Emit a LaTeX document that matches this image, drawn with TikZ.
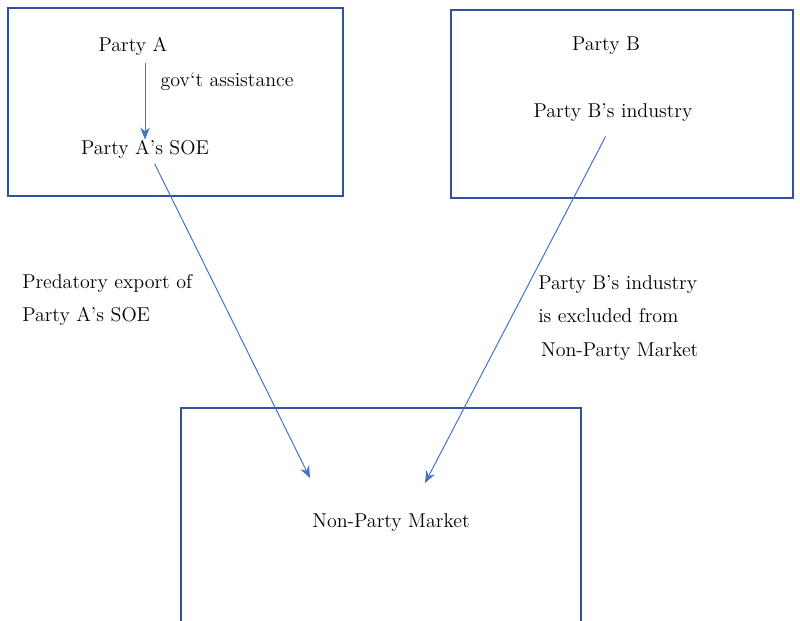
\documentclass[tikz,border=0pt]{standalone}
\usetikzlibrary{arrows.meta}

\definecolor{boxblue}{RGB}{46,82,158}
\definecolor{arrowblue}{RGB}{68,114,196}

\begin{document}
\begin{tikzpicture}[x=0.025cm, y=-0.025cm,
	lbl/.style={inner sep=0pt, font=\fontsize{14.2}{24}\selectfont, align=left},
	panel/.style={draw=boxblue, line width=0.8pt},
	arr/.style={draw=arrowblue, line width=0.7pt, -{Stealth[length=0.3cm, width=0.24cm]}}]
	\clip (0,0) rectangle (800,620);
	% boxes
	\draw[panel] (8,8) rectangle (343,196);
	\draw[panel] (451,10) rectangle (793,198);
	\draw[panel] (181,408) rectangle (581,660);
	% texts
	\node[lbl] (pa) at (133,46) {Party A};
	\node[lbl] (soe) at (145,149) {Party A’s SOE};
	\node[lbl] (pb) at (606,46) {Party B};
	\node[lbl] (ind) at (613,113) {Party B’s industry};
	\node[lbl] (npm) at (391,523) {Non-Party Market};
	\node[lbl, anchor=west] (exp) at (22,300) {Predatory export of\\Party A’s SOE};
	\node[lbl, anchor=west] (excl) at (538,318) {Party B’s industry\\is excluded from\\\hspace{2pt}Non-Party Market};
	\coordinate (atip) at (310,478);
	\coordinate (btip) at (425,483);
	% arrows
	\draw[arr, shorten <=0.18cm] (soe.north |- pa.south) -- (soe.north)
		node[lbl, pos=0.31, right, xshift=0.38cm] (gov) {gov‘t assistance};
	\draw[arr, shorten <=0.15cm] (soe.south) ++(7,0) -- (atip);
	\draw[arr, shorten <=0.4cm] (ind.south) -- (btip);
\end{tikzpicture}
\end{document}
